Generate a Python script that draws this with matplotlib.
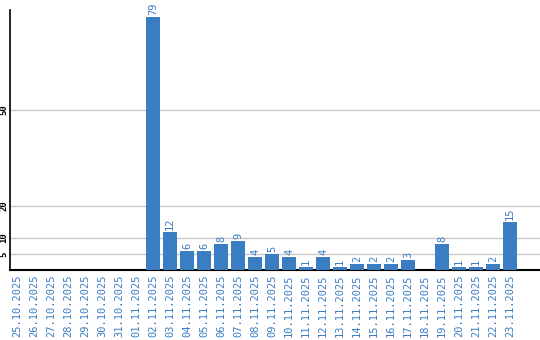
import numpy as np
import matplotlib
matplotlib.use("Agg")
import matplotlib.pyplot as plt

dates = ["25.10.2025", "26.10.2025", "27.10.2025", "28.10.2025", "29.10.2025",
         "30.10.2025", "31.10.2025", "01.11.2025", "02.11.2025", "03.11.2025",
         "04.11.2025", "05.11.2025", "06.11.2025", "07.11.2025", "08.11.2025",
         "09.11.2025", "10.11.2025", "11.11.2025", "12.11.2025", "13.11.2025",
         "14.11.2025", "15.11.2025", "16.11.2025", "17.11.2025", "18.11.2025",
         "19.11.2025", "20.11.2025", "21.11.2025", "22.11.2025", "23.11.2025"]
counts = [0, 0, 0, 0, 0, 0, 0, 0, 79, 12,
          6, 6, 8, 9, 4, 5, 4, 1, 4, 1,
          2, 2, 2, 3, 0, 8, 1, 1, 2, 15]
yticks = [5, 10, 20, 50]

blue = "#3a7dc2"
mono = "DejaVu Sans Mono"

fig = plt.figure(figsize=(5.4, 3.4), dpi=100)
ax = fig.add_axes([10 / 540, 70 / 340, 530 / 540, 260 / 340])

x = np.arange(len(dates))
ax.bar(x, counts, width=14 / 17, color=blue, zorder=3)

for xi, c in zip(x, counts):
    if c > 0:
        ax.text(xi, c + 0.6, str(c), rotation=90, ha="center", va="bottom",
                color=blue, fontsize=7.5, family=mono, zorder=4)

ax.set_xlim(-7 / 17, 530 / 17 - 7 / 17)
ax.set_ylim(0, 260 / 3.2)

ax.set_xticks(x)
ax.set_xticklabels(dates, rotation=90, color=blue, fontsize=7.5, family=mono)
ax.set_yticks(yticks)
ax.set_yticklabels([str(t) for t in yticks], rotation=90, va="center",
                   fontsize=6.5, family=mono, fontweight="bold")
ax.tick_params(axis="x", length=0, pad=3)
ax.tick_params(axis="y", length=0, pad=1)

ax.grid(axis="y", color="#c8c8c8", linewidth=1, zorder=0)
ax.spines["top"].set_visible(False)
ax.spines["right"].set_visible(False)
ax.spines["left"].set_color("black")
ax.spines["bottom"].set_color("black")
ax.spines["left"].set_linewidth(1.2)
ax.spines["bottom"].set_linewidth(1.5)

fig.savefig("out.png", dpi=100)
